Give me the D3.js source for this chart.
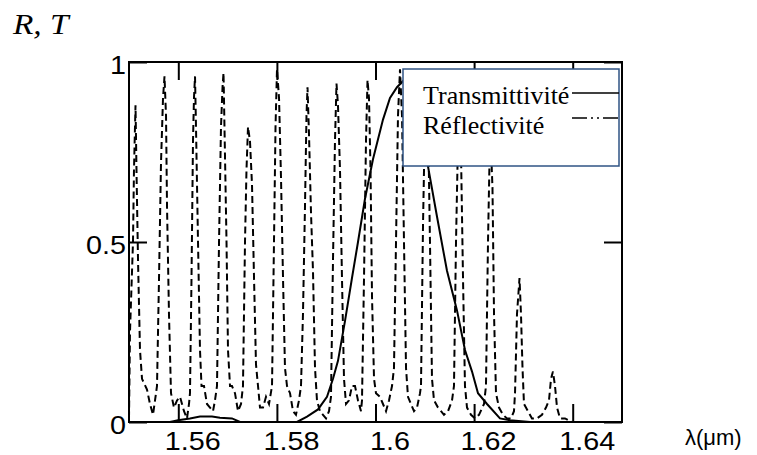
<!DOCTYPE html>
<html>
<head>
<meta charset="utf-8">
<script src="https://cdn.jsdelivr.net/npm/d3@7"></script>
<style>
  body { margin: 0; background: #fff; }
  svg { display: block; }
  .axis path, .axis line { stroke: #000; stroke-width: 2; }
  .axis text { font-family: "Liberation Sans", Arial, sans-serif; font-size: 25px; fill: #000; }
</style>
</head>
<body>
<svg id="chart" width="757" height="455"></svg>
<script>

// wavelength (um) and reflectivity
var reflWl = [1.55000,1.55020,1.55081,1.55101,1.55132,1.55152,1.55183,1.55223,1.55264,1.55365,1.55426,1.55487,1.55548,
  1.55568,1.55609,1.55649,1.55690,1.55720,1.55751,1.55771,1.55811,1.55852,1.55913,1.55974,1.56034,1.56116,1.56176,1.56217,
  1.56237,1.56268,1.56298,1.56318,1.56339,1.56359,1.56400,1.56440,1.56471,1.56521,1.56582,1.56643,1.56704,1.56744,
  1.56785,1.56826,1.56866,1.56897,1.56917,1.56947,1.56978,1.57008,1.57049,1.57089,1.57150,1.57211,1.57272,
  1.57312,1.57353,1.57383,1.57414,1.57454,1.57495,1.57536,1.57576,1.57617,1.57657,1.57718,1.57779,1.57840,
  1.57901,1.57941,1.57972,1.58002,1.58043,1.58083,1.58124,1.58164,1.58205,1.58266,1.58327,1.58387,1.58448,
  1.58489,1.58529,1.58570,1.58600,1.58621,1.58651,1.58692,1.58732,1.58773,1.58813,1.58874,1.58935,1.58996,1.59057,
  1.59097,1.59138,1.59178,1.59209,1.59239,1.59280,1.59320,1.59361,1.59402,1.59462,1.59523,1.59584,1.59645,1.59706,
  1.59726,1.59767,1.59807,1.59838,1.59868,1.59899,1.59929,1.59970,1.60010,1.60091,1.60152,1.60213,1.60274,1.60335,
  1.60375,1.60416,1.60456,1.60497,1.60538,1.60578,1.60619,1.60659,1.60720,1.60781,1.60842,1.60903,
  1.60923,1.60964,1.61004,1.61034,1.61065,1.61105,1.61146,1.61187,1.61268,1.61329,1.61389,1.61471,1.61552,
  1.61592,1.61633,1.61673,1.61704,1.61734,1.61775,1.61815,1.61856,1.61937,1.62018,1.62099,1.62201,
  1.62241,1.62282,1.62312,1.62343,1.62373,1.62404,1.62444,1.62505,1.62586,1.62667,1.62748,1.62809,
  1.62830,1.62870,1.62901,1.62921,1.62951,1.62982,1.63012,1.63093,1.63174,1.63276,1.63377,1.63458,
  1.63519,1.63560,1.63600,1.63641,1.63682,1.63742,1.63844,1.63986];
var reflR = [0.01,0.25,0.50,0.70,0.88,0.70,0.45,0.20,0.12,0.09,0.05,0.02,0.08,
  0.10,0.40,0.72,0.90,0.96,0.85,0.60,0.30,0.08,0.04,0.06,0.07,0.03,0.01,0.05,
  0.08,0.40,0.78,0.90,0.96,0.82,0.50,0.20,0.10,0.10,0.05,0.04,0.03,0.06,
  0.10,0.50,0.82,0.93,0.97,0.74,0.50,0.20,0.10,0.10,0.08,0.03,0.05,
  0.10,0.50,0.70,0.82,0.78,0.66,0.40,0.16,0.10,0.04,0.04,0.07,0.05,
  0.10,0.50,0.82,0.98,0.90,0.68,0.40,0.15,0.10,0.08,0.03,0.02,0.06,
  0.10,0.30,0.60,0.85,0.93,0.80,0.58,0.42,0.15,0.06,0.03,0.02,0.01,0.03,
  0.07,0.45,0.78,0.94,0.88,0.70,0.40,0.12,0.05,0.06,0.10,0.10,0.06,0.03,
  0.06,0.40,0.78,0.95,0.90,0.70,0.35,0.12,0.08,0.07,0.05,0.03,0.06,0.10,
  0.15,0.50,0.85,0.98,0.85,0.50,0.15,0.07,0.05,0.03,0.04,0.08,
  0.10,0.55,0.85,0.95,0.85,0.50,0.12,0.06,0.04,0.03,0.02,0.03,0.06,
  0.10,0.50,0.78,0.85,0.75,0.40,0.10,0.04,0.02,0.01,0.02,0.05,
  0.10,0.50,0.72,0.76,0.65,0.30,0.08,0.04,0.02,0.01,0.01,0.03,
  0.08,0.30,0.36,0.40,0.30,0.15,0.05,0.03,0.01,0.01,0.02,0.04,
  0.06,0.12,0.14,0.10,0.04,0.01,0.01,0.00];

// wavelength (um) and transmittivity
var transWl = [1.55000,1.55832,1.55994,1.56237,1.56440,1.56684,1.56846,1.57089,1.57252,1.57657,1.58063,1.58408,
  1.58611,1.58834,1.59016,1.59138,1.59239,1.59381,1.59523,1.59645,1.59787,1.59949,1.60152,1.60294,1.60436,
  1.60578,1.60720,1.60862,1.61065,1.61248,1.61450,1.61653,1.61815,1.61958,1.62079,1.62262,1.62525,1.62728,
  1.63134,1.63986];
var transT = [0,0,0.005,0.01,0.015,0.015,0.012,0.01,0,0,0,0,
  0.015,0.035,0.07,0.12,0.17,0.28,0.40,0.50,0.62,0.73,0.84,0.90,0.93,
  0.95,0.94,0.87,0.71,0.57,0.42,0.31,0.20,0.14,0.08,0.05,0.01,0.005,
  0,0];

var xTicks = [1.56, 1.58, 1.6, 1.62, 1.64];
var yTicks = [0, 0.5, 1];
var legendNames = ["Transmittivit\u00e9", "R\u00e9flectivit\u00e9"];

function draw_chart() {

  var m = {left: 129, right: 622, top: 62, bottom: 422};

  var svg = d3.select("#chart");
  svg.append("rect").attr("width", 757).attr("height", 455).attr("fill", "#fff");

  var x = d3.scaleLinear().domain([1.55, 1.65]).range([m.left, m.right]);
  var y = d3.scaleLinear().domain([0, 1]).range([m.bottom, m.top]);

  var reflData = reflWl.map(function(d, i) { return [d, reflR[i]]; });
  var transData = transWl.map(function(d, i) { return [d, transT[i]]; });

  var line = d3.line()
    .x(function(d) { return x(d[0]); })
    .y(function(d) { return y(d[1]); });

  // reflectivity, dashed
  svg.append("path")
    .datum(reflData)
    .attr("d", line)
    .attr("fill", "none")
    .attr("stroke", "#000")
    .attr("stroke-width", 2)
    .attr("stroke-dasharray", "7,4");

  // transmittivity, solid
  svg.append("path")
    .datum(transData)
    .attr("d", line)
    .attr("fill", "none")
    .attr("stroke", "#000")
    .attr("stroke-width", 2);

  // axes, ticks pointing inwards
  var xAxis = svg.append("g")
    .attr("class", "axis")
    .attr("transform", "translate(0," + m.bottom + ")")
    .call(d3.axisBottom(x).tickValues(xTicks).tickSize(-18).tickSizeOuter(0).tickFormat(d3.format("")));
  xAxis.select(".domain").remove();
  xAxis.selectAll("text")
    .attr("x", 0).attr("y", 0).attr("dy", 0)
    .attr("transform", "translate(14,28) scale(1.15,1)");

  svg.append("g")
    .attr("class", "axis")
    .attr("transform", "translate(0," + m.top + ")")
    .call(d3.axisTop(x).tickValues(xTicks).tickSize(-18).tickSizeOuter(0).tickFormat(""))
    .select(".domain").remove();

  var yAxis = svg.append("g")
    .attr("class", "axis")
    .attr("transform", "translate(" + m.left + ",0)")
    .call(d3.axisLeft(y).tickValues(yTicks).tickSize(-18).tickSizeOuter(0).tickFormat(d3.format("")));
  yAxis.select(".domain").remove();
  yAxis.selectAll("text")
    .attr("x", 0).attr("dy", "0.45em")
    .attr("transform", "translate(-3,0) scale(1.15,1)");

  svg.append("g")
    .attr("class", "axis")
    .attr("transform", "translate(" + m.right + ",0)")
    .call(d3.axisRight(y).tickValues(yTicks).tickSize(-18).tickSizeOuter(0).tickFormat(""))
    .select(".domain").remove();

  svg.append("rect")
    .attr("x", m.left).attr("y", m.top)
    .attr("width", m.right - m.left).attr("height", m.bottom - m.top)
    .attr("fill", "none").attr("stroke", "#000").attr("stroke-width", 2);

  // legend
  var lg = svg.append("g");
  lg.append("rect")
    .attr("x", 403).attr("y", 69).attr("width", 216).attr("height", 97)
    .attr("fill", "#fff").attr("stroke", "#2f5384").attr("stroke-width", 1.5);
  lg.selectAll("text.leg")
    .data(legendNames)
    .enter().append("text")
    .attr("class", "leg")
    .attr("x", 423)
    .attr("y", function(d, i) { return 104 + i * 30; })
    .style("font-family", "'Liberation Serif', 'Times New Roman', serif")
    .style("font-size", "26px")
    .text(function(d) { return d; });
  lg.append("line")
    .attr("x1", 572).attr("x2", 619).attr("y1", 93).attr("y2", 93)
    .attr("stroke", "#000").attr("stroke-width", 1.5);
  lg.append("line")
    .attr("x1", 572).attr("x2", 619).attr("y1", 118).attr("y2", 118)
    .attr("stroke", "#000").attr("stroke-width", 1.5)
    .attr("stroke-dasharray", "15,4,2,4,2,4");

  // axis titles
  svg.append("text")
    .attr("transform", "translate(13,34) scale(1.15,1)")
    .style("font-family", "'Liberation Serif', 'Times New Roman', serif")
    .style("font-style", "italic")
    .style("font-size", "29px")
    .text("R, T");

  svg.append("text")
    .attr("x", 685).attr("y", 445)
    .style("font-family", "'Liberation Sans', Arial, sans-serif")
    .style("font-size", "22px")
    .text("\u03bb(\u03bcm)");
}

draw_chart();

</script>
</body>
</html>
